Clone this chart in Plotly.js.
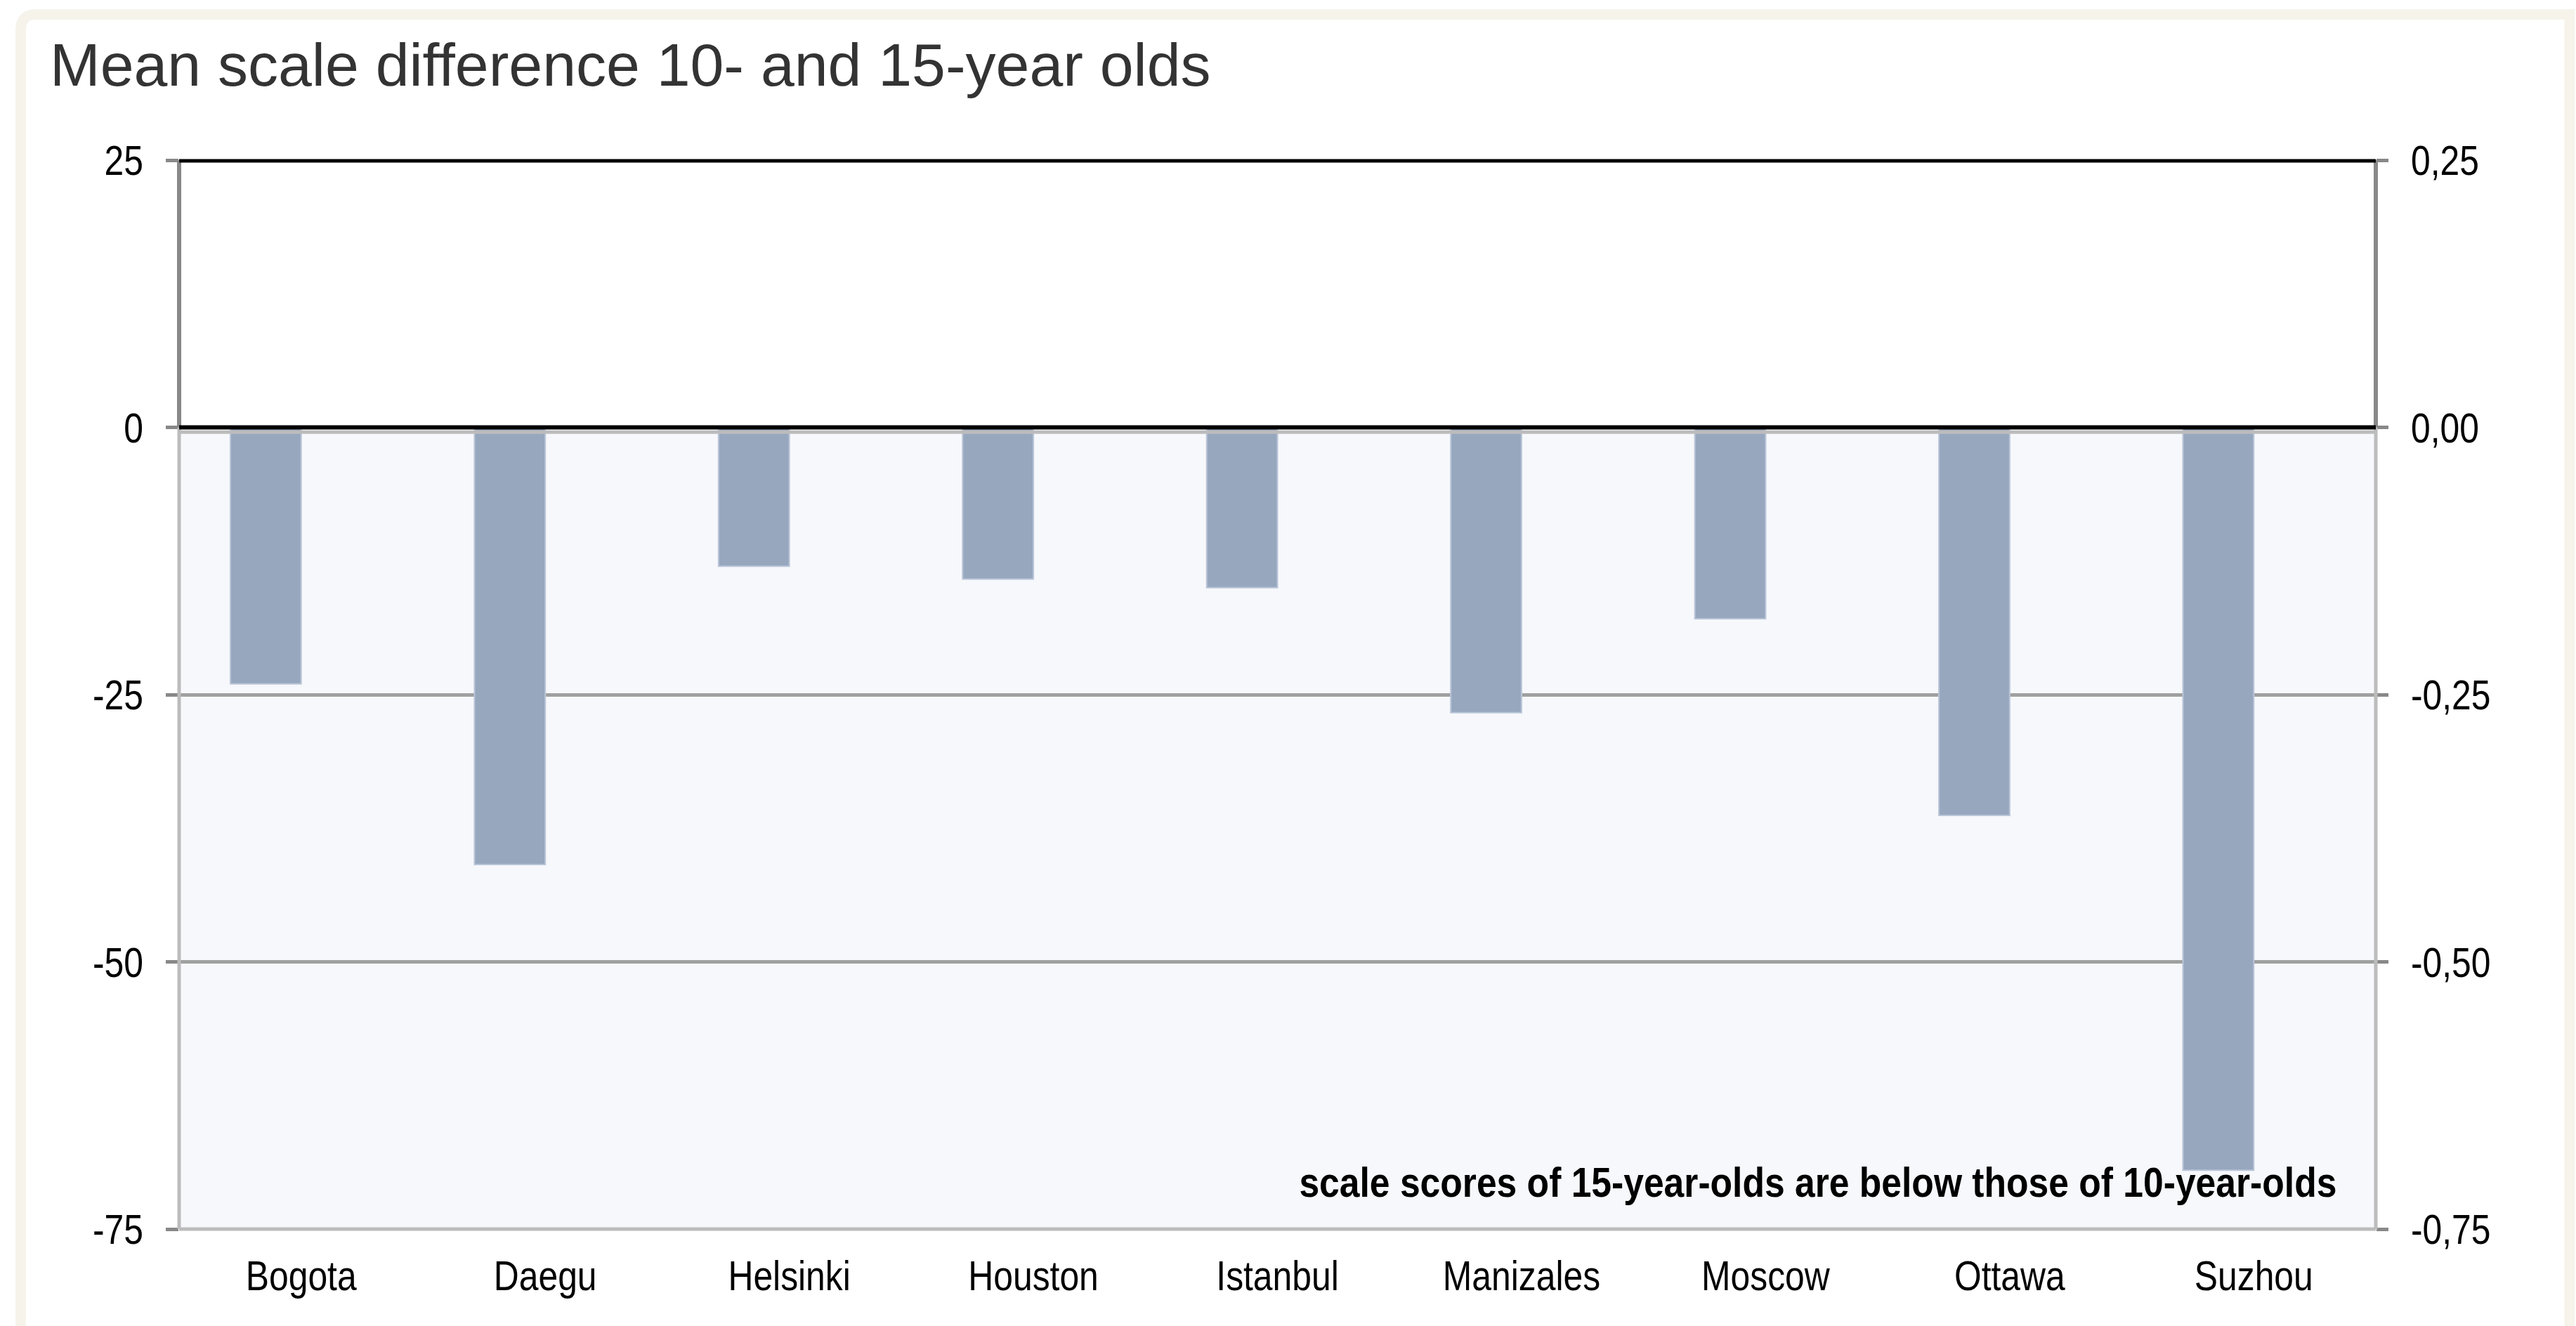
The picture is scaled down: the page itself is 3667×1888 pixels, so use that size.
<!DOCTYPE html>
<html>
<head>
<meta charset="utf-8">
<script src="https://cdn.plot.ly/plotly-3.0.1.min.js"></script>
<style>html,body{margin:0;padding:0;background:#fff;}#chart{width:3667px;height:1888px;}</style>
</head>
<body>
<div id="chart"></div>
<script>
// ---- data ----
const cities = ["Bogota", "Daegu", "Helsinki", "Houston", "Istanbul", "Manizales", "Moscow", "Ottawa", "Suzhou"];
const meanDifference = [-24.0, -40.9, -13.0, -14.2, -15.0, -26.7, -17.9, -36.3, -69.5];
const emptySeries = [null, null, null, null, null, null, null, null, null];
const leftTickVals = [25, 0, -25, -50, -75];
const leftTickText = ["25", "0", "-25", "-50", "-75"];
const rightTickVals = [0.25, 0, -0.25, -0.5, -0.75];
const rightTickText = ["0,25", "0,00", "-0,25", "-0,50", "-0,75"];
const chartTitle = "Mean scale difference 10- and 15-year olds";
const noteText = "scale scores of 15-year-olds are below those of 10-year-olds";

// ---- styling ----
const FONT = "'Liberation Sans', Arial, Helvetica, sans-serif";
const NARROW_REGULAR = 0.83;   // emulate a Helvetica-Narrow look
const NARROW_BOLD = 0.86;

const traces = [
  {
    type: "bar",
    x: cities,
    y: meanDifference,
    width: 0.29,
    offset: -0.29,
    marker: {color: "#97a7be", line: {color: "#bac6d8", width: 2}},
    hoverinfo: "x+y",
    showlegend: false
  },
  {
    type: "bar",
    x: cities,
    y: emptySeries,
    yaxis: "y2",
    showlegend: false,
    hoverinfo: "skip"
  }
];

// y in paper units: value v on the left axis [-75, 25] -> (v + 75) / 100
const pv = v => (v + 75) / 100;
const lineShape = (x0, x1, y0, y1, color, w) => ({
  type: "line", xref: "paper", yref: "paper",
  x0: x0, x1: x1, y0: y0, y1: y1,
  line: {color: color, width: w}, layer: "above"
});

// cream frame with rounded top-left corner (paper coordinates)
const fx0 = (29.5 - 255) / 3127, fx1 = (3658 - 255) / 3127;
const fy0 = (1750 - 1900) / 1522, fy1 = (1750 - 20.5) / 1522;
const rx = 22 / 3127, ry = 22 / 1522;
const framePath = `M ${fx0},${fy0} L ${fx0},${fy1 - ry} Q ${fx0},${fy1} ${fx0 + rx},${fy1} L ${fx1},${fy1} L ${fx1},${fy0}`;

const layout = {
  width: 3667,
  height: 1888,
  margin: {l: 255, r: 285, t: 228, b: 138, pad: 0},
  paper_bgcolor: "#ffffff",
  plot_bgcolor: "#ffffff",
  showlegend: false,
  title: {
    text: chartTitle,
    font: {family: FONT, size: 86, color: "#333333"},
    x: 71 / 3667, xanchor: "left", xref: "container",
    y: 1 - 92 / 1888, yanchor: "middle", yref: "container"
  },
  xaxis: {
    type: "category",
    showgrid: false, zeroline: false, showline: false,
    ticks: "",
    tickfont: {family: FONT, size: 60, color: "#000000"},
    ticklabelstandoff: 26
  },
  yaxis: {
    range: [-75, 25],
    tickvals: leftTickVals, ticktext: leftTickText,
    showgrid: true, gridcolor: "#a0a0a0", gridwidth: 5,
    zeroline: false, showline: false,
    ticks: "outside", ticklen: 18, tickwidth: 5, tickcolor: "#888888",
    tickfont: {family: FONT, size: 60, color: "#000000"},
    ticklabelstandoff: 20,
    fixedrange: true
  },
  yaxis2: {
    overlaying: "y", side: "right",
    range: [-0.75, 0.25],
    tickvals: rightTickVals, ticktext: rightTickText,
    showgrid: false, zeroline: false, showline: false,
    ticks: "outside", ticklen: 17, tickwidth: 5, tickcolor: "#888888",
    tickfont: {family: FONT, size: 60, color: "#000000"},
    ticklabelstandoff: 20,
    fixedrange: true
  },
  shapes: [
    {type: "path", xref: "paper", yref: "paper", path: framePath,
     line: {color: "#f6f3eb", width: 15}, fillcolor: "rgba(0,0,0,0)", layer: "below"},
    // lower (negative) region background
    {type: "rect", xref: "paper", yref: "paper", x0: 0, x1: 1, y0: pv(-75), y1: pv(0),
     fillcolor: "#f7f8fc", line: {width: 0}, layer: "below"},
    // lower region borders
    lineShape(0, 0, pv(-75), pv(0), "#bcbcbc", 5),
    lineShape(1, 1, pv(-75), pv(0), "#bcbcbc", 5),
    lineShape(0, 1, pv(-75), pv(-75), "#bcbcbc", 5),
    lineShape(0, 1, pv(-0.45), pv(-0.45), "#bcbcbc", 5),
    // upper region side axes
    lineShape(0, 0, pv(0), pv(25), "#888888", 6),
    lineShape(1, 1, pv(0), pv(25), "#888888", 6),
    // black top and zero lines
    lineShape(0, 1, pv(24.93), pv(24.93), "#000000", 5),
    lineShape(0, 1, pv(0), pv(0), "#000000", 6)
  ],
  annotations: [
    {
      text: noteText,
      xref: "paper", yref: "y",
      x: (3328 - 255) / 3127, xanchor: "right",
      y: -70.6, yanchor: "middle",
      showarrow: false,
      font: {family: FONT, size: 60, color: "#000000", weight: "bold"}
    }
  ]
};

// compress glyphs horizontally; shift = how far to move x so a chosen edge stays put
function narrow(selector, factor, keepRightEdge) {
  document.querySelectorAll(selector).forEach(t => {
    const len = t.getComputedTextLength();
    if (len > 0) {
      const newLen = len * factor;
      t.setAttribute("textLength", newLen.toFixed(2));
      t.setAttribute("lengthAdjust", "spacingAndGlyphs");
      if (keepRightEdge) {
        const x = parseFloat(t.getAttribute("x") || "0");
        t.setAttribute("x", (x + (len - newLen) / 2).toFixed(2));
      }
    }
  });
}

Plotly.newPlot("chart", traces, layout, {staticPlot: true, displayModeBar: false}).then(() => {
  narrow("#chart .xtick text", NARROW_REGULAR, false);
  narrow("#chart .ytick text", NARROW_REGULAR, false);
  narrow("#chart .y2tick text", NARROW_REGULAR, false);
  narrow("#chart .annotation-text", NARROW_BOLD, true);
});
</script>
</body>
</html>
